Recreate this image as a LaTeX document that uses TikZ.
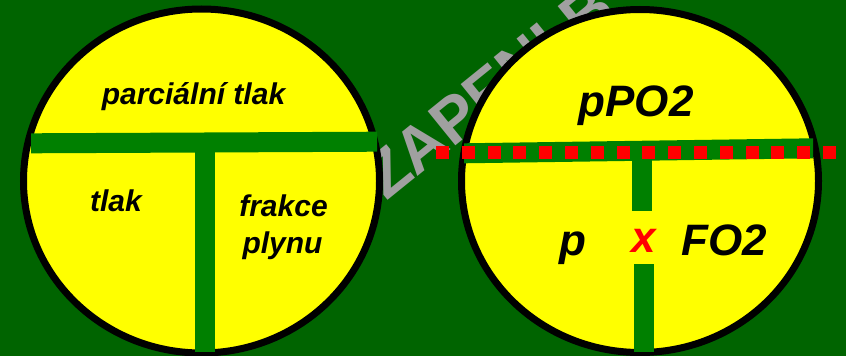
\documentclass[tikz,border=0pt]{standalone}
\usepackage{fontspec}
\setmainfont{Liberation Sans}
\definecolor{bg}{HTML}{006400}
\definecolor{barg}{HTML}{008000}
\definecolor{wmgray}{HTML}{A0A0A0}
\definecolor{disc}{HTML}{FFFF00}
\definecolor{dotred}{HTML}{FF0000}
\tikzset{
  discbox/.style={fill=disc, draw=black, line width=7pt},
  barfill/.style={fill=barg},
  lbl/.style={inner sep=0pt, anchor=base, font=\fontsize{30}{36}\selectfont\bfseries\itshape},
  biglbl/.style={inner sep=0pt, anchor=base, font=\fontsize{44}{50}\selectfont\bfseries\itshape},
  wmark/.style={inner sep=0pt, anchor=base west, text=wmgray, font=\fontsize{64}{70}\selectfont\bfseries}
}
\begin{document}
\begin{tikzpicture}[x=1pt, y=-1pt]
\useasboundingbox (0,0) rectangle (846,356);
\fill[bg] (0,0) rectangle (846,356);
\clip (0,0) rectangle (846,356);

% watermark behind the discs
\node[wmark, rotate=39] (wm) at (386,202) {ZAPENI B};

% left disc: parcialni tlak = tlak x frakce plynu
\draw[discbox] (201.5,181) ellipse [x radius=178, y radius=172];
\fill[barfill] (31,133.3) -- (377,131.7) -- (377,151.7) -- (31,153.3) -- cycle;
\fill[barfill] (195,151) rectangle (215,352);
\node[lbl] (parc) at (193.5,104) {parciální tlak};
\node[lbl] (tlak) at (116,211.7) {tlak};
\node[lbl] (frak) at (283.5,216.7) {frakce};
\node[lbl] (plyn) at (282.5,253) {plynu};

% right disc: pPO2 = p x FO2
\draw[discbox] (640,181) ellipse [x radius=178.5, y radius=171.5];
\fill[barfill] (464,143.3) -- (813,138.3) -- (813,158.3) -- (464,163.3) -- cycle;
\fill[barfill] (632,158) rectangle (652,211);
\fill[barfill] (634,264) rectangle (654,352);
\foreach \i in {0,...,15}
  \fill[dotred] ({436+25.8*\i},146) rectangle +(13,13);
\node[biglbl] (ppo) at (636,116.7) {pPO2};
\node[biglbl] (pp) at (573,255) {p};
\node[biglbl, text=dotred] (times) at (643.5,252) {x};
\node[biglbl] (fo) at (724,255) {FO2};
\end{tikzpicture}
\end{document}
